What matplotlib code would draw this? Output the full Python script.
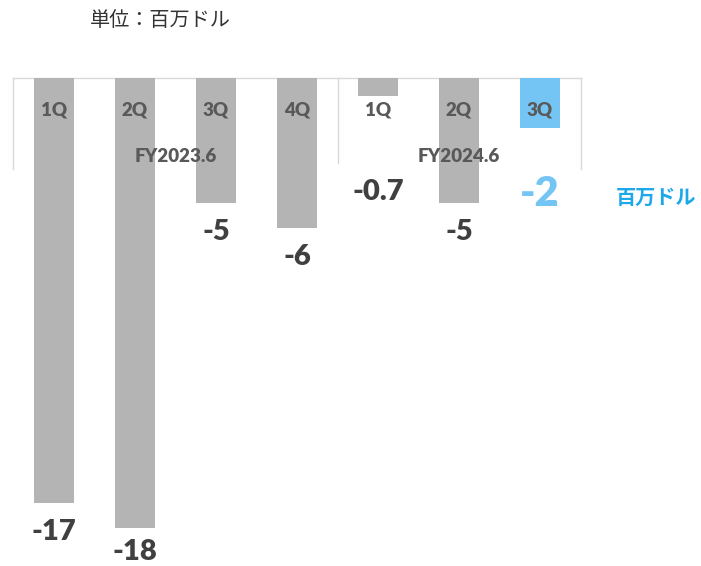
import matplotlib.pyplot as plt

plt.rcParams['font.family'] = ['Lato', 'Noto Sans CJK JP', 'DejaVu Sans']

quarters = ['1Q', '2Q', '3Q', '4Q', '1Q', '2Q', '3Q']
values = [-17, -18, -5, -6, -0.7, -5, -2]
value_labels = ['-17', '-18', '-5', '-6', '-0.7', '-5', '-2']
years = ['FY2023.6', 'FY2024.6']
unit_title = '単位：百万ドル'
unit_side = '百万ドル'

gray = '#b4b4b4'
blue = '#74c4f4'
colors = [gray] * 6 + [blue]

fig = plt.figure(figsize=(7.01, 5.66), dpi=100)
ax = fig.add_axes([0, 0, 1, 1])
ax.set_xlim(-54 / 81, 647 / 81)
ax.set_ylim(-19.52, 3.12)
ax.axis('off')

x = list(range(len(values)))
ax.bar(x, values, width=0.5, color=colors, zorder=2)

# frame of the category header
line_c = '#d9d9d9'
ax.plot([-0.5, 6.5], [0, 0], color=line_c, lw=1, zorder=1)
ax.plot([-0.5, -0.5], [0, -3.65], color=line_c, lw=1, zorder=1)
ax.plot([3.5, 3.5], [0, -3.4], color=line_c, lw=1, zorder=1)
ax.plot([6.5, 6.5], [0, -3.65], color=line_c, lw=1, zorder=1)

for i, q in enumerate(quarters):
    ax.text(i, -1.3, q, ha='center', va='center', fontsize=13.5,
            fontweight='heavy', color='#595959', zorder=3)

ax.text(1.5, -3.16, years[0], ha='center', va='center', fontsize=13.5,
        fontweight='heavy', color='#595959', zorder=3)
ax.text(5, -3.16, years[1], ha='center', va='center', fontsize=13.5,
        fontweight='heavy', color='#595959', zorder=3)

for i, (v, lab) in enumerate(zip(values, value_labels)):
    y = max(min(v, -3.4) - 1.15, -18.95)
    if i == len(values) - 1:
        ax.text(i, y - 0.1, lab, ha='center', va='center', fontsize=30,
                fontweight='heavy', color=blue)
    else:
        ax.text(i, y, lab, ha='center', va='center', fontsize=21,
                fontweight='heavy', color='#404040')

fig.text(656 / 701, 1 - 197 / 566, unit_side, ha='center', va='center',
         fontsize=14.5, fontweight='bold', color='#1ca8ea',
         family=['Noto Sans CJK JP'])
fig.text(90 / 701, 1 - 20 / 566, unit_title, ha='left', va='center',
         fontsize=14.5, color='#333333', family=['Noto Sans CJK JP'])

fig.savefig('out.png', dpi=100)
